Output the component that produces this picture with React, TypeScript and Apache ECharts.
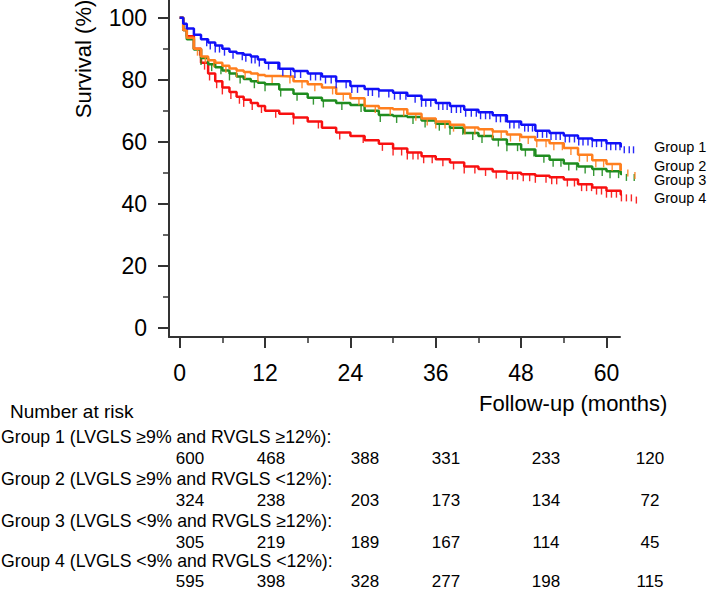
import React, { useEffect, useRef } from "react";
import * as echarts from "echarts";

// ---------- data ----------
const timePoints = [0, 0.5, 1, 2, 3, 4, 5, 6, 7, 8, 9, 10, 11, 12, 14, 16, 18, 20, 22, 24, 26, 28, 30, 32, 34, 36, 38, 40, 42, 44, 46, 48, 50, 52, 54, 56, 58, 60, 62, 64];

const survivalG1 = [100, 98, 96.5, 94.5, 93, 92, 91, 90, 89, 88.5, 88, 87.5, 86.5, 85.5, 83.5, 82.8, 82, 81, 79.5, 78, 77, 76.5, 75.8, 74.8, 73.5, 72.5, 71.5, 70.3, 69.5, 68.5, 66.5, 65.5, 63.5, 62.8, 62, 61, 60.5, 59.5, 58.5, 57.8];
const survivalG2 = [100, 96, 93.5, 90, 87.5, 86.3, 85.5, 84.5, 83.6, 83, 82.5, 82, 81.5, 81.2, 81, 79.5, 78.5, 77.5, 75.5, 74, 71.5, 70.8, 70.5, 69, 67.5, 66.5, 65.5, 64.6, 64, 63.3, 62.3, 61.5, 60.5, 59.5, 58, 55.8, 54, 52.8, 51, 50.2];
const survivalG3 = [100, 96, 93, 89.7, 87, 85, 84, 83, 82, 81, 80.2, 79.5, 79, 78.5, 76.8, 75.5, 74.2, 73.3, 72.5, 71.8, 70, 68.6, 68.3, 68, 66.8, 65.8, 64.5, 62.8, 61.8, 60.7, 59.2, 57.5, 55.5, 54.2, 53, 52, 51.2, 50.5, 49.6, 49.2];
const survivalG4 = [100, 96, 94, 90, 85.5, 82, 79.5, 77.5, 76, 74.5, 73.5, 72.5, 71.5, 70, 69, 67.8, 66.5, 64.5, 63, 61.8, 60.5, 59.3, 57.8, 56.5, 55.3, 54.3, 53.3, 52, 51.2, 50.4, 50, 49.5, 49, 48.5, 47.8, 46.3, 45.2, 44.2, 43, 42.3];

const censorG1 = [3.8, 4.3, 5.0, 5.6, 6.3, 7.5, 8.8, 9.3, 10.1, 10.6, 11.2, 12.5, 13.8, 14.5, 15.6, 16.2, 17.0, 18.4, 19.1, 19.8, 20.5, 21.3, 22.0, 23.4, 24.2, 25.0, 26.5, 27.1, 28.0, 29.4, 30.2, 31.0, 31.8, 33.1, 34.0, 34.6, 35.3, 36.4, 37.0, 37.6, 38.2, 38.9, 39.5, 40.2, 41.0, 41.7, 42.3, 43.0, 43.6, 44.5, 45.1, 45.8, 46.4, 47.0, 47.7, 48.5, 49.0, 49.6, 50.3, 51.0, 51.6, 52.2, 52.9, 53.5, 54.2, 54.8, 55.5, 56.1, 56.7, 57.4, 58.0, 58.6, 59.3, 60.0, 60.6, 61.3, 61.9, 62.5, 63.2, 63.8];
const censorG2 = [2.5, 3.6, 4.8, 6.5, 8.0, 9.2, 11.0, 13.0, 15.5, 17.2, 19.0, 21.5, 23.0, 25.2, 27.5, 29.6, 31.5, 33.2, 34.8, 36.0, 37.3, 38.5, 40.1, 41.5, 42.8, 44.0, 45.2, 46.5, 47.8, 49.0, 50.2, 51.5, 52.6, 53.8, 55.0, 56.2, 57.3, 58.5, 59.6, 60.8, 61.9, 63.0, 64.0];
const censorG3 = [3.0, 4.5, 5.8, 7.0, 8.5, 10.5, 12.0, 14.2, 16.5, 18.8, 20.2, 22.8, 25.5, 28.2, 30.5, 32.8, 34.5, 36.5, 38.0, 39.8, 41.2, 42.5, 44.8, 46.0, 47.5, 48.6, 49.8, 51.2, 52.5, 53.6, 54.7, 55.8, 57.0, 58.2, 59.4, 60.5, 61.7, 62.8, 63.9];
const censorG4 = [2.8, 3.5, 4.2, 5.2, 6.0, 7.2, 8.4, 9.0, 10.2, 11.5, 13.5, 16.0, 19.5, 22.5, 25.8, 28.5, 30.0, 31.2, 32.0, 32.8, 33.5, 34.3, 35.5, 37.0, 38.5, 40.0, 41.5, 43.0, 44.5, 46.0, 46.8, 47.5, 48.3, 49.2, 50.0, 51.5, 52.3, 53.0, 54.5, 55.5, 56.5, 57.2, 57.9, 58.6, 59.3, 60.0, 60.7, 61.4, 62.1, 62.8, 63.5, 64.2];

const groupNames = ["Group 1", "Group 2", "Group 3", "Group 4"];
const groupColors = ["#1010f8", "#ff7f1e", "#1f8c1f", "#f81010"];
const riskHeaders = [
  "Group 1 (LVGLS \u22659% and RVGLS \u226512%):",
  "Group 2 (LVGLS \u22659% and RVGLS <12%):",
  "Group 3 (LVGLS <9% and RVGLS \u226512%):",
  "Group 4 (LVGLS <9% and RVGLS <12%):",
];
const riskG1 = [600, 468, 388, 331, 233, 120];
const riskG2 = [324, 238, 203, 173, 134, 72];
const riskG3 = [305, 219, 189, 167, 114, 45];
const riskG4 = [595, 398, 328, 277, 198, 115];
const xMajorTicks = [0, 12, 24, 36, 48, 60];
const xMinorTicks = [6, 18, 30, 42, 54];
const yMajorTicks = [0, 20, 40, 60, 80, 100];
const yMinorTicks = [10, 30, 50, 70, 90];

// ---------- layout ----------
const FONT = "'Liberation Sans', Arial, Helvetica, sans-serif";
const AXIS = "#333333";
const labelYs = [147, 165.5, 180, 198];
const riskColX = [190, 271, 365, 446, 546, 650];
const headerY = [437, 479, 521, 561];
const rowY = [458, 500, 542, 581];

function stepValue(t: number, times: number[], vals: number[]) {
  let v = vals[0];
  for (let i = 0; i < times.length; i++) {
    if (times[i] <= t) v = vals[i];
    else break;
  }
  return v;
}

export default function App() {
  const ref = useRef<HTMLDivElement>(null);
  useEffect(() => {
    if (!ref.current) return;
    const chart = echarts.init(ref.current, undefined, { renderer: "svg" });
    const survs = [survivalG1, survivalG2, survivalG3, survivalG4];
    const censors = [censorG1, censorG2, censorG3, censorG4];
    const risks = [riskG1, riskG2, riskG3, riskG4];
    const drawOrder = [3, 2, 1, 0];

    const series: any[] = [];
    drawOrder.forEach((g) => {
      series.push({
        type: "line",
        name: groupNames[g],
        step: "end",
        symbol: "none",
        clip: false,
        silent: true,
        z: 3 + (3 - g),
        lineStyle: { color: groupColors[g], width: 2.5 },
        data: timePoints.map((t, i) => [t, survs[g][i]]),
      });
      series.push({
        type: "scatter",
        name: groupNames[g] + " censored",
        symbol: "rect",
        symbolSize: [1.4, 7],
        symbolOffset: [0, 3.5],
        clip: false,
        silent: true,
        z: 3 + (3 - g),
        itemStyle: { color: groupColors[g], opacity: 0.9 },
        data: censors[g].map((t) => [t, stepValue(t, timePoints, survs[g])]),
      });
    });

    const graphics: any[] = [];
    graphics.push({
      type: "text",
      x: 83,
      y: 59,
      rotation: Math.PI / 2,
      style: { text: "Survival (%)", fontSize: 22, fontFamily: FONT, fill: "#000", align: "center", verticalAlign: "middle" },
    });
    groupNames.forEach((n, g) => {
      graphics.push({
        type: "text",
        x: 654,
        y: labelYs[g],
        style: { text: n, fontSize: 14.5, fontFamily: FONT, fill: "#000", align: "left", verticalAlign: "middle" },
      });
    });
    graphics.push({
      type: "text",
      x: 479,
      y: 403,
      style: { text: "Follow-up (months)", fontSize: 22, fontFamily: FONT, fill: "#000", align: "left", verticalAlign: "middle" },
    });
    graphics.push({
      type: "text",
      x: 10,
      y: 411,
      style: { text: "Number at risk", fontSize: 19, fontFamily: FONT, fill: "#000", align: "left", verticalAlign: "middle" },
    });
    riskHeaders.forEach((h, g) => {
      graphics.push({
        type: "text",
        x: 1,
        y: headerY[g],
        style: { text: h, fontSize: 17.7, fontFamily: FONT, fill: "#000", align: "left", verticalAlign: "middle" },
      });
      risks[g].forEach((v, j) => {
        graphics.push({
          type: "text",
          x: riskColX[j],
          y: rowY[g],
          style: { text: String(v), fontSize: 17, fontFamily: FONT, fill: "#000", align: "center", verticalAlign: "middle" },
        });
      });
    });

    const xBase = { type: "value", min: -1.5, max: 61.9, splitLine: { show: false } };
    const yBase = { type: "value", min: -3, max: 105.7, splitLine: { show: false } };

    chart.setOption({
      animation: false,
      backgroundColor: "#ffffff",
      grid: { left: 169, top: 0, width: 451, height: 337, containLabel: false },
      xAxis: [
        {
          ...xBase,
          position: "bottom",
          axisLine: { show: true, onZero: false, lineStyle: { color: AXIS, width: 2 } },
          axisTick: { show: true, length: 11, customValues: xMajorTicks, lineStyle: { color: AXIS, width: 2 } },
          axisLabel: { show: true, customValues: xMajorTicks, fontSize: 23, fontFamily: FONT, color: "#000", margin: 24 },
        },
        {
          ...xBase,
          position: "bottom",
          axisLine: { show: false, onZero: false },
          axisTick: { show: true, length: 6, customValues: xMinorTicks, lineStyle: { color: AXIS, width: 1.5 } },
          axisLabel: { show: false },
        },
      ],
      yAxis: [
        {
          ...yBase,
          position: "left",
          axisLine: { show: true, onZero: false, lineStyle: { color: AXIS, width: 2 } },
          axisTick: { show: true, length: 11, customValues: yMajorTicks, lineStyle: { color: AXIS, width: 2 } },
          axisLabel: { show: true, customValues: yMajorTicks, fontSize: 23, fontFamily: FONT, color: "#000", margin: 22 },
        },
        {
          ...yBase,
          position: "left",
          axisLine: { show: false, onZero: false },
          axisTick: { show: true, length: 6, customValues: yMinorTicks, lineStyle: { color: AXIS, width: 1.5 } },
          axisLabel: { show: false },
        },
      ],
      series,
      graphic: graphics,
    });
    return () => chart.dispose();
  }, []);
  return <div ref={ref} style={{ position: "absolute", left: 0, top: 0, width: 709, height: 590 }} />;
}
